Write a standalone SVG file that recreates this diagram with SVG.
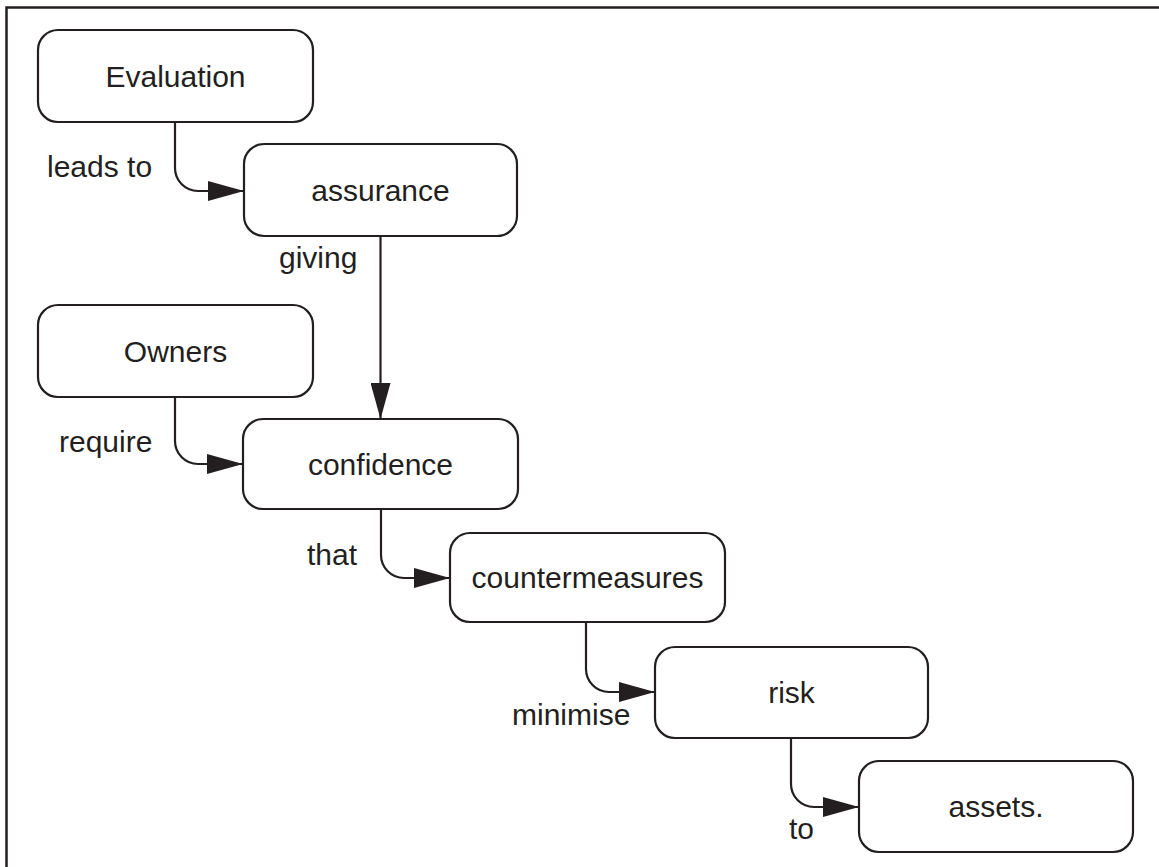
<svg xmlns="http://www.w3.org/2000/svg" width="1159" height="867" viewBox="0 0 1159 867">
  <style>
    .frame { fill: none; stroke: #231f20; stroke-width: 2.5; }
    .node rect { fill: #fff; stroke: #231f20; stroke-width: 2.2; }
    .node text, .label { font-family: "Liberation Sans", Arial, sans-serif; font-size: 30px; fill: #231f20; }
    .node text { text-anchor: middle; }
    .edge { fill: none; stroke: #231f20; stroke-width: 2.2; marker-end: url(#arrow); }
  </style>
  <defs>
    <marker id="arrow" viewBox="0 0 36 20" refX="36" refY="10" markerWidth="36" markerHeight="20" markerUnits="userSpaceOnUse" orient="auto">
      <path d="M0,0 L36,10 L0,20 Z" fill="#231f20"/>
    </marker>
  </defs>

  <rect width="1159" height="867" fill="#fff"/>
  <!-- open frame: top and left sides only -->
  <path class="frame" d="M6.5,867 V7.5 H1159"/>

  <g id="connectors">
    <path class="edge" d="M175,122 V168 A23,23 0 0 0 198,191 H244"/>
    <path class="edge" d="M380.5,236 V419"/>
    <path class="edge" d="M175,397 V441 A23,23 0 0 0 198,464 H243"/>
    <path class="edge" d="M381,509 V555 A23,23 0 0 0 404,578 H450"/>
    <path class="edge" d="M586,622 V669 A23,23 0 0 0 609,692 H655"/>
    <path class="edge" d="M791,738 V784 A23,23 0 0 0 814,807 H859"/>
  </g>

  <g id="labels">
    <text class="label" x="47" y="177">leads to</text>
    <text class="label" x="279" y="268">giving</text>
    <text class="label" x="59" y="452">require</text>
    <text class="label" x="307" y="565">that</text>
    <text class="label" x="512" y="725">minimise</text>
    <text class="label" x="789" y="839">to</text>
  </g>

  <g id="node-evaluation" class="node">
    <rect x="38" y="30" width="275" height="92" rx="20"/>
    <text x="175.5" y="87">Evaluation</text>
  </g>
  <g id="node-assurance" class="node">
    <rect x="244" y="144" width="273" height="92" rx="20"/>
    <text x="380.5" y="201">assurance</text>
  </g>
  <g id="node-owners" class="node">
    <rect x="38" y="305" width="275" height="92" rx="20"/>
    <text x="175.5" y="362">Owners</text>
  </g>
  <g id="node-confidence" class="node">
    <rect x="243" y="419" width="275" height="90" rx="20"/>
    <text x="380.5" y="475">confidence</text>
  </g>
  <g id="node-countermeasures" class="node">
    <rect x="450" y="533" width="275" height="89" rx="20"/>
    <text x="587.5" y="588">countermeasures</text>
  </g>
  <g id="node-risk" class="node">
    <rect x="655" y="647" width="273" height="91" rx="20"/>
    <text x="791.5" y="703">risk</text>
  </g>
  <g id="node-assets" class="node">
    <rect x="859" y="761" width="274" height="91" rx="20"/>
    <text x="996" y="817">assets.</text>
  </g>
</svg>
